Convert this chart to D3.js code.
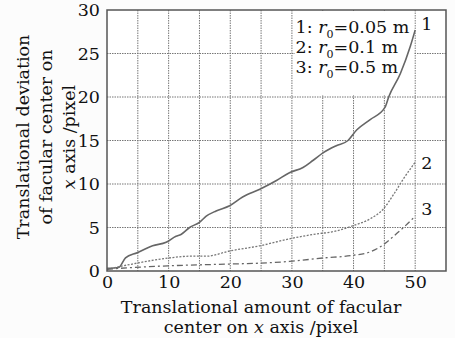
<!DOCTYPE html>
<html>
<head>
<meta charset="utf-8">
<script src="https://cdn.jsdelivr.net/npm/d3@7"></script>
<style>
  body { margin: 0; background: #fcfcfc; }
  svg text { font-family: "DejaVu Serif", serif; fill: #111; }
</style>
</head>
<body>
<div id="viz"></div>
<script>
// data
let xTicks = [0, 10, 20, 30, 40, 50]
let yTicks = [0, 5, 10, 15, 20, 25, 30]
let gridSteps = [5, 10, 15, 20, 25, 30, 35, 40, 45, 50]

let curve1 = [[0,0.3],[1.9,0.4],[3,1.5],[4.9,2.1],[7.4,2.9],[9.6,3.3],[11.2,4.0],[12,4.2],[13.4,5.0],[15,5.6],
  [16.1,6.3],[17.7,6.9],[19.9,7.5],[22,8.5],[24.8,9.4],[27.5,10.4],[29.6,11.3],[31.8,11.9],[33.4,12.7],
  [35.1,13.6],[37.2,14.4],[39.1,15.0],[40.5,16.2],[42.7,17.4],[45.1,18.8],[45.7,20.0],[47.6,22.7],[49.2,25.8],[50,27.7]]
let curve2 = [[0,0.2],[4.1,0.8],[10.1,1.5],[13.4,1.7],[16.1,1.7],[19.9,2.3],[24.8,2.9],[29.6,3.7],[33.4,4.2],
  [37.2,4.6],[39.9,5.2],[42.7,6.0],[44.8,7.1],[46.5,8.8],[48.1,10.6],[50,12.5]]
let curve3 = [[0,0.2],[4.1,0.4],[10.1,0.6],[19.9,0.8],[24.8,0.9],[29.6,1.1],[35.1,1.5],[39.9,1.8],[42.7,2.2],
  [44.8,3.0],[46.5,4.0],[48.1,5.0],[50,6.3]]
let curveNames = ["1", "2", "3"]
let legendItems = [["1: ", "0.05 m"], ["2: ", "0.1 m"], ["3: ", "0.5 m"]]

let svgWidth = 455, svgHeight = 338
let margin = { left: 107, right: 9, top: 10, bottom: 67 }
let width = svgWidth - margin.left - margin.right
let height = svgHeight - margin.top - margin.bottom
let fs = 17.5
let font = '"DejaVu Serif", serif'

const svg = d3.select('#viz')
    .append('svg')
    .attr('width', svgWidth)
    .attr('height', svgHeight)

let g = svg.append('g').attr('transform', `translate(${margin.left},${margin.top})`)

let xScale = d3.scaleLinear().domain([0, 55]).range([0, width])
let yScale = d3.scaleLinear().domain([0, 30]).range([height, 0])

g.append('rect')
    .attr('width', width).attr('height', height)
    .attr('fill', '#fff')

// grid
g.append('g').selectAll('line')
    .data(gridSteps)
    .join('line')
    .attr('x1', d => xScale(d)).attr('x2', d => xScale(d))
    .attr('y1', 0).attr('y2', height)
    .attr('stroke', '#777').attr('stroke-width', 1)
    .attr('stroke-dasharray', '1.5,1')
g.append('g').selectAll('line')
    .data(yTicks.slice(1, -1))
    .join('line')
    .attr('y1', d => yScale(d)).attr('y2', d => yScale(d))
    .attr('x1', 0).attr('x2', width)
    .attr('stroke', '#777').attr('stroke-width', 1)
    .attr('stroke-dasharray', '1.5,1')

// legend box hides the grid behind it
g.append('rect')
    .attr('x', xScale(30.5)).attr('y', 1)
    .attr('width', xScale(50) - xScale(30.5) - 1)
    .attr('height', yScale(20.3))
    .attr('fill', '#fff')

let line = d3.line()
    .x(d => xScale(d[0]))
    .y(d => yScale(d[1]))
    .curve(d3.curveMonotoneX)

g.append('path').datum(curve1).attr('d', line)
    .attr('fill', 'none').attr('stroke', '#666').attr('stroke-width', 1.6)
g.append('path').datum(curve2).attr('d', line)
    .attr('fill', 'none').attr('stroke', '#777').attr('stroke-width', 1.3)
    .attr('stroke-dasharray', '2,1.5')
g.append('path').datum(curve3).attr('d', line)
    .attr('fill', 'none').attr('stroke', '#666').attr('stroke-width', 1.3)
    .attr('stroke-dasharray', '6,3,2,3')

// frame
g.append('rect')
    .attr('width', width).attr('height', height)
    .attr('fill', 'none').attr('stroke', '#555').attr('stroke-width', 1.5)

// axes
let xAxis = g.append('g')
    .attr('transform', `translate(0,${height})`)
    .call(d3.axisBottom(xScale).tickValues(xTicks).tickSize(0).tickPadding(5))
xAxis.select('.domain').remove()
xAxis.selectAll('text').attr('font-size', fs).style('font-family', font).attr('fill', '#111')

let yAxis = g.append('g')
    .call(d3.axisLeft(yScale).tickValues(yTicks).tickSize(0).tickPadding(7))
yAxis.select('.domain').remove()
yAxis.selectAll('text').attr('font-size', fs).style('font-family', font).attr('fill', '#111')

// curve labels
let ends = [curve1, curve2, curve3].map(c => c[c.length - 1])
g.append('g').selectAll('text')
    .data(ends)
    .join('text')
    .attr('x', d => xScale(d[0]) + 6)
    .attr('y', (d, i) => yScale(d[1]) + [0, 7, -1][i])
    .attr('font-size', fs)
    .text((d, i) => curveNames[i])

// legend
let leg = g.append('g').selectAll('text')
    .data(legendItems)
    .join('text')
    .attr('x', xScale(30.6))
    .attr('y', (d, i) => 23 + i * 20)
    .attr('font-size', fs)
leg.append('tspan').text(d => d[0])
leg.append('tspan').attr('font-style', 'italic').text('r')
leg.append('tspan').attr('font-size', 11).attr('dy', 5).text('0')
leg.append('tspan').attr('dy', -5).text(d => '=' + d[1])

// axis titles
let cx = margin.left + xScale(25)
svg.append('text')
    .attr('text-anchor', 'middle')
    .attr('x', cx).attr('y', 313)
    .attr('font-size', fs)
    .text('Translational amount of facular')
let xt2 = svg.append('text')
    .attr('text-anchor', 'middle')
    .attr('x', cx).attr('y', 333)
    .attr('font-size', fs)
xt2.append('tspan').text('center on ')
xt2.append('tspan').attr('font-style', 'italic').text('x')
xt2.append('tspan').text(' axis /pixel')

let yt = svg.append('text')
    .attr('text-anchor', 'middle')
    .attr('transform', 'translate(0,137) rotate(-90)')
    .attr('font-size', fs)
yt.append('tspan').attr('x', 0).attr('y', 29).text('Translational deviation')
yt.append('tspan').attr('x', 0).attr('y', 52).text('of facular center on')
let yt3 = yt.append('tspan').attr('x', 0).attr('y', 75)
yt3.append('tspan').attr('font-style', 'italic').text('x')
yt3.append('tspan').text(' axis /pixel')
</script>
</body>
</html>
